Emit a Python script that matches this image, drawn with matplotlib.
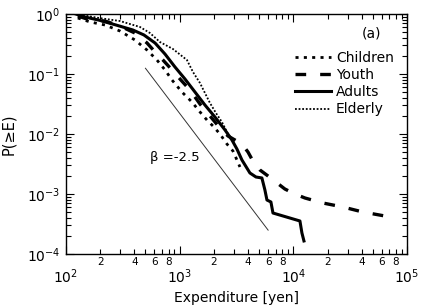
import numpy as np
import matplotlib
matplotlib.use("Agg")
import matplotlib.pyplot as plt
from matplotlib.ticker import LogLocator, LogFormatterMathtext, FuncFormatter, NullFormatter

plt.rcParams['font.family'] = ['DejaVu Sans']
plt.rcParams['mathtext.fontset'] = 'dejavusans'

# ---- data ----
children_E = [127, 163, 220, 298, 404, 516, 631, 743, 856, 1047, 1283, 1509, 1738, 1963, 2262, 2606, 2943, 3190, 3390]
children_P = [0.858, 0.736, 0.656, 0.521, 0.369, 0.251, 0.171, 0.117, 0.0794, 0.0501, 0.0341, 0.0233, 0.0171, 0.0136, 0.0100, 0.00681, 0.00521, 0.00369, 0.00282]

youth_E = [127, 163, 220, 298, 404, 516, 607, 713, 856, 1006, 1232, 1509, 1847, 2262, 2660, 3065, 3530, 3990, 4410, 5090, 5980, 7030, 8430, 10330, 12650, 18200, 27300, 40900, 63900]
youth_P = [0.926, 0.794, 0.764, 0.631, 0.482, 0.329, 0.233, 0.171, 0.117, 0.0826, 0.0541, 0.0316, 0.0200, 0.0126, 0.00927, 0.00794, 0.00681, 0.00501, 0.00355, 0.00251, 0.00200, 0.00158, 0.00121, 0.00100, 0.000858, 0.000708, 0.000607, 0.000501, 0.000430]

adults_E = [122, 147, 195, 275, 388, 485, 607, 743, 909, 1113, 1363, 1669, 2043, 2502, 2884, 3190, 3530, 4150, 4690, 5290, 5620, 5860, 6350, 6620, 11430, 11900, 12400]
adults_P = [1.0, 0.89, 0.79, 0.656, 0.541, 0.447, 0.329, 0.215, 0.131, 0.0826, 0.0501, 0.0304, 0.0192, 0.0117, 0.00794, 0.00562, 0.00369, 0.00224, 0.00192, 0.00185, 0.00117, 0.000794, 0.000736, 0.000482, 0.000355, 0.000224, 0.000165]

elderly_E = [122, 195, 298, 448, 548, 671, 873, 1159, 1309, 1509, 1669, 1847, 2085, 2355, 2660]
elderly_P = [1.0, 0.858, 0.764, 0.607, 0.482, 0.341, 0.261, 0.171, 0.108, 0.0708, 0.0482, 0.0329, 0.0224, 0.0158, 0.0100]

# reference power law, beta = -2.5
beta = -2.5
ref_E0, ref_P0 = 506, 0.121
ref_E = [500, 6000]

series_labels = ["Children", "Youth", "Adults", "Elderly"]

fig = plt.figure(figsize=(4.4, 3.05), dpi=100)
ax = fig.add_axes([66/440, 51/305, 341/440, 240/305])

styles = {
    "Children": dict(lw=2.0, ls=(0, (1.1, 1.9)), dash_capstyle='butt'),
    "Youth": dict(lw=2.4, ls=(0, (3.2, 4.2))),
    "Adults": dict(lw=2.2, ls='-'),
    "Elderly": dict(lw=1.3, ls=(0, (1, 1))),
}
data = {
    "Children": (children_E, children_P),
    "Youth": (youth_E, youth_P),
    "Adults": (adults_E, adults_P),
    "Elderly": (elderly_E, elderly_P),
}
for name in series_labels:
    E, P = data[name]
    ax.plot(E, P, color='black', label=name, **styles[name])

rE = np.array(ref_E, dtype=float)
ax.plot(rE, ref_P0 * (rE / ref_E0) ** beta, color='#333333', lw=0.7)
ax.text(548, 0.0040, "β =-2.5", fontsize=9.5, va='center', ha='left')

ax.set_xscale('log')
ax.set_yscale('log')
ax.set_xlim(1e2, 1e5)
ax.set_ylim(1e-4, 1)

ax.xaxis.set_major_locator(LogLocator(base=10, numticks=10))
ax.xaxis.set_minor_locator(LogLocator(base=10, subs=range(2, 10), numticks=20))
ax.xaxis.set_major_formatter(LogFormatterMathtext())

def minor_fmt(v, pos):
    m = int(round(v / 10 ** np.floor(np.log10(v) + 1e-9)))
    return str(m) if m in (2, 4, 6, 8) else ""
ax.xaxis.set_minor_formatter(FuncFormatter(minor_fmt))

ax.yaxis.set_major_locator(LogLocator(base=10, numticks=10))
ax.yaxis.set_minor_locator(LogLocator(base=10, subs=range(2, 10), numticks=20))
ax.yaxis.set_major_formatter(LogFormatterMathtext())
ax.yaxis.set_minor_formatter(NullFormatter())

ax.tick_params(which='both', direction='in', top=True, right=True)
ax.tick_params(which='major', length=6, width=0.8)
ax.tick_params(which='minor', length=3.5, width=0.8)
ax.tick_params(axis='x', which='minor', labelsize=7.5, pad=2)
ax.tick_params(axis='x', which='major', labelsize=10, pad=9.5)
ax.tick_params(axis='y', which='major', labelsize=10, pad=4)
for s in ax.spines.values():
    s.set_linewidth(1.0)

ax.set_xlabel("Expenditure [yen]", fontsize=10, labelpad=3.5)
ax.set_ylabel("P(≥E)", fontsize=10.5, labelpad=8)

ax.text(0.895, 0.92, "(a)", transform=ax.transAxes, fontsize=10, ha='center', va='center')

ax.legend(loc='upper left', bbox_to_anchor=(0.672, 0.845), frameon=False,
          fontsize=10, handlelength=2.6, handletextpad=0.35, labelspacing=0.22,
          borderpad=0, borderaxespad=0)

fig.savefig("out.png", dpi=100)
